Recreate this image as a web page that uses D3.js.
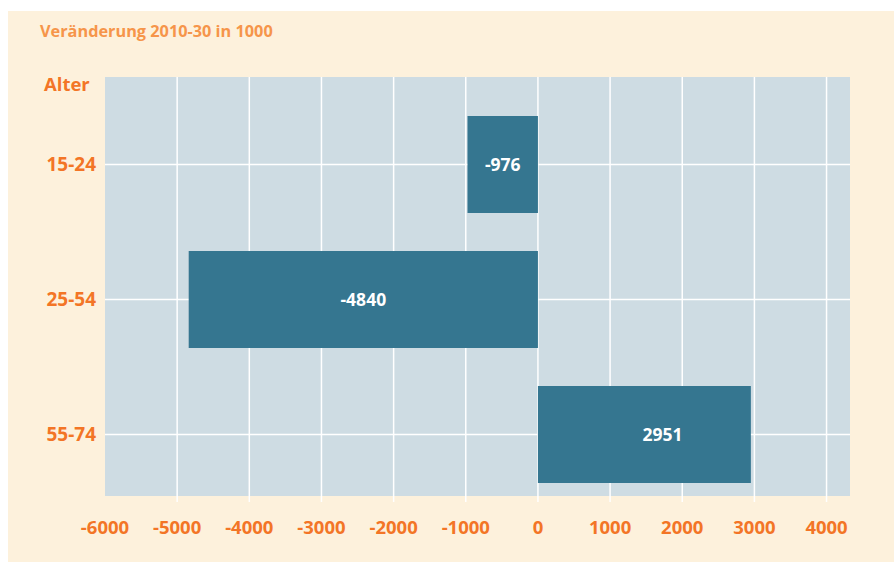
<!DOCTYPE html>
<html>
<head>
<meta charset="utf-8">
<script src="https://cdn.jsdelivr.net/npm/d3@7"></script>
<style>
  body { margin: 0; background: #fff; }
  text { font-family: "Open Sans", "Noto Sans", sans-serif; font-weight: bold; }
</style>
</head>
<body>
<script>
var w = 894, h = 566;

// data
var ageGroups = ["15-24", "25-54", "55-74"];
var changes = [-976, -4840, 2951];
var xTicks = [-6000, -5000, -4000, -3000, -2000, -1000, 0, 1000, 2000, 3000, 4000];

var plot = { left: 105, top: 77, right: 850, bottom: 496 };
var orange = "#f37526";

var svg = d3.select("body").append("svg").attr("width", w).attr("height", h);

// cream panel
svg.append("rect")
  .attr("x", 8).attr("y", 11)
  .attr("width", w - 8).attr("height", 551)
  .style("fill", "#fdf1dc");

var x = d3.scaleLinear().domain([-6000, 4325]).range([plot.left, plot.right]);
var y = d3.scalePoint().domain(ageGroups).range([164.5, 434.5]);

// plot background
svg.append("rect")
  .attr("x", plot.left).attr("y", plot.top)
  .attr("width", plot.right - plot.left).attr("height", plot.bottom - plot.top)
  .style("fill", "#cedce3");

// vertical grid lines (extend a little below plot as ticks)
svg.selectAll("line.vgrid")
  .data(xTicks.slice(1))
  .enter()
  .append("line")
  .attr("class", "vgrid")
  .attr("x1", function (d) { return x(d); })
  .attr("x2", function (d) { return x(d); })
  .attr("y1", plot.top)
  .attr("y2", plot.bottom + 6)
  .style("stroke", "#fff")
  .style("stroke-width", 1.5);

// horizontal grid lines
svg.selectAll("line.hgrid")
  .data(ageGroups)
  .enter()
  .append("line")
  .attr("class", "hgrid")
  .attr("x1", plot.left)
  .attr("x2", plot.right)
  .attr("y1", function (d) { return y(d); })
  .attr("y2", function (d) { return y(d); })
  .style("stroke", "#fff")
  .style("stroke-width", 1.5);

var barH = 97;

// bars
svg.selectAll("rect.bar")
  .data(changes)
  .enter()
  .append("rect")
  .attr("class", "bar")
  .attr("x", function (d) { return x(Math.min(0, d)); })
  .attr("y", function (d, i) { return y(ageGroups[i]) - barH / 2; })
  .attr("width", function (d) { return Math.abs(x(d) - x(0)); })
  .attr("height", barH)
  .style("fill", "#357690");

// bar labels
svg.selectAll("text.val")
  .data(changes)
  .enter()
  .append("text")
  .attr("class", "val")
  .attr("x", function (d) { return (x(d) + x(0)) / 2 + (d > 0 ? 18 : 0); })
  .attr("y", function (d, i) { return y(ageGroups[i]) + 6; })
  .attr("text-anchor", "middle")
  .style("fill", "#fff")
  .style("font-size", "17.5px")
  .text(function (d) { return d; });

// x tick labels
svg.selectAll("text.xt")
  .data(xTicks)
  .enter()
  .append("text")
  .attr("class", "xt")
  .attr("x", function (d) { return x(d); })
  .attr("y", 534)
  .attr("text-anchor", "middle")
  .style("fill", orange)
  .style("font-size", "18.5px")
  .text(function (d) { return d; });

// y tick labels
svg.selectAll("text.yt")
  .data(ageGroups)
  .enter()
  .append("text")
  .attr("class", "yt")
  .attr("x", 96)
  .attr("y", function (d) { return y(d) + 6; })
  .attr("text-anchor", "end")
  .style("fill", orange)
  .style("font-size", "19px")
  .text(function (d) { return d; });

svg.append("text")
  .attr("x", 44).attr("y", 91)
  .style("fill", orange)
  .style("font-size", "18.5px")
  .text("Alter");

svg.append("text")
  .attr("x", 40).attr("y", 37)
  .style("fill", "#f6954a")
  .style("font-size", "16.3px")
  .text("Veränderung 2010-30 in 1000");
</script>
</body>
</html>
